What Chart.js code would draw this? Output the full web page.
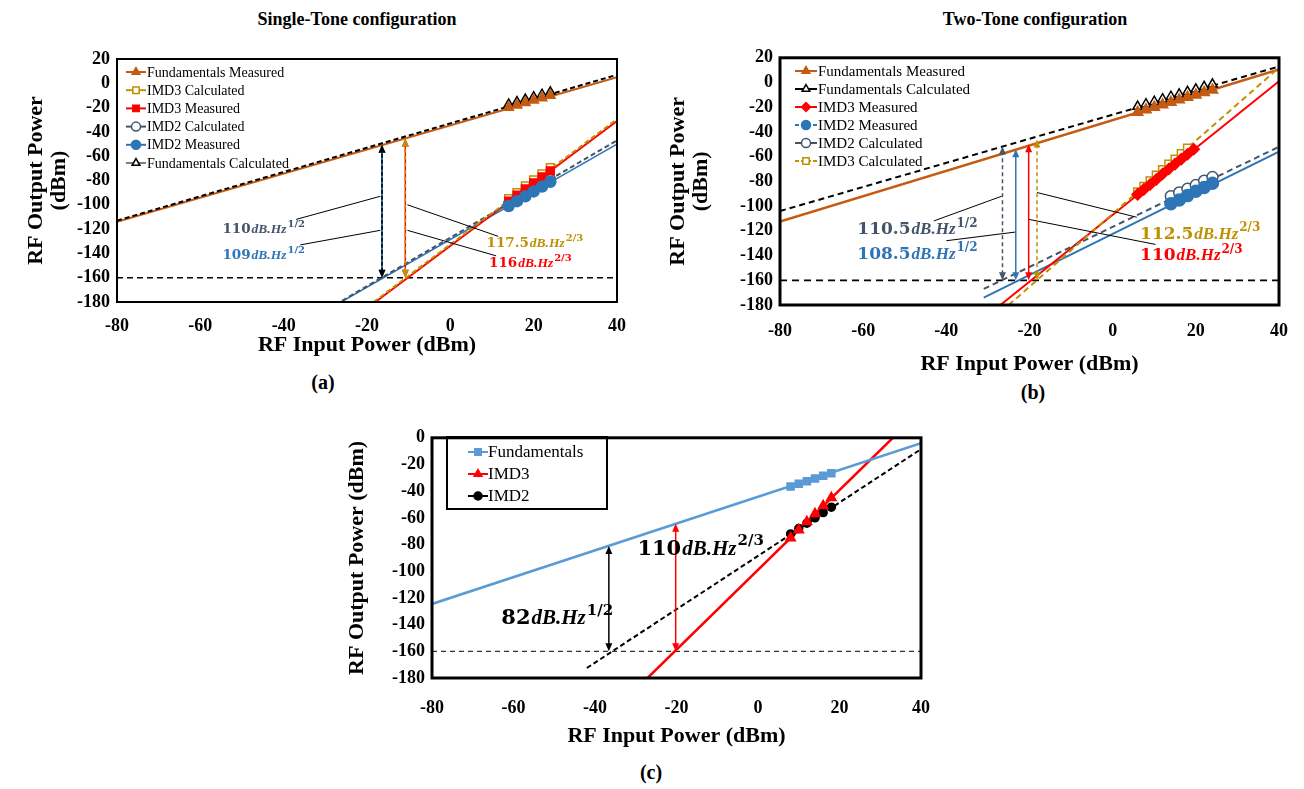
<!DOCTYPE html>
<html>
<head>
<meta charset="utf-8">
<script src="https://cdn.jsdelivr.net/npm/chart.js@4.4.0/dist/chart.umd.min.js"></script>
<style>
body { margin: 0; background: #fff; width: 1304px; height: 789px; position: relative; overflow: hidden; font-family: "Liberation Serif", serif; }
.panel { position: absolute; }
.txt { position: absolute; font-weight: bold; transform: translateX(-50%); white-space: nowrap; color: #000; }
</style>
</head>
<body>
<div class="txt" style="left:357px;top:9px;font-size:18px">Single-Tone configuration</div>
<div class="txt" style="left:1035px;top:9px;font-size:18px">Two-Tone configuration</div>
<div class="txt" style="left:323px;top:371px;font-size:20px">(a)</div>
<div class="txt" style="left:1033px;top:381px;font-size:20px">(b)</div>
<div class="txt" style="left:651px;top:761px;font-size:20px">(c)</div>

<canvas id="chartA" class="panel" width="650" height="330" style="left:0;top:40px"></canvas>
<canvas id="chartB" class="panel" width="654" height="340" style="left:650px;top:40px"></canvas>
<canvas id="chartC" class="panel" width="620" height="330" style="left:330px;top:420px"></canvas>

<script>
// ---- (a) single tone: measured / calculated points
const inA = [14, 16, 18, 20, 22, 24];
const fundMeasA = [-20, -18, -16, -14, -12, -10];
const fundCalcA = [-17, -15, -13, -11, -9, -7];
const imd3MeasA = [-97, -92, -87, -82, -77, -72];
const imd3CalcA = [-95, -90, -84.5, -79.5, -74.5, -69.5];
const imd2MeasA = [-101, -97, -93, -89, -85, -81];
const imd2CalcA = [-99, -95, -91, -87, -83, -79];
// fitted lines, [x, y] end points
const fundMeasFitA = [[-80, -114], [40, 5]];
const fundCalcFitA = [[-80, -113], [40, 7]];
const imd3MeasFitA = [[-18, -180], [40, -31]];
const imd3CalcFitA = [[-18.4, -180], [40, -29.5]];
const imd2MeasFitA = [[-26.2, -180], [40, -50]];
const imd2CalcFitA = [[-26, -179], [40, -47]];

// ---- (b) two tone
const fundInB = [6, 8, 10, 12, 14, 16, 18, 20, 22, 24];
const fundMeasB = [-24, -22, -20, -18, -16, -14, -12, -10, -8, -6];
const fundCalcB = [-19.5, -17.5, -15.5, -13.5, -11.5, -9.5, -7.5, -5.5, -3.5, -1.5];
const imd3InB = [6, 7.5, 9, 10.5, 12, 13.5, 15, 16.5, 18, 19.5];
const imd3MeasB = [-90.5, -86.5, -82.5, -78.5, -74, -70, -66, -62, -58, -54];
const imd3CalcInB = [6, 7.5, 9, 10.5, 12, 13.5, 15, 16.5, 18];
const imd3CalcB = [-88.5, -84, -79.5, -75, -70.5, -66, -62, -57.5, -53];
const imd2InB = [14, 16, 18, 20, 22, 24];
const imd2MeasB = [-98, -95, -91.5, -88, -85, -81.5];
const imd2CalcB = [-92, -89, -86, -83, -79.5, -76.5];
const fundMeasFitB = [[-80, -112.5], [40, 10.5]];
const fundCalcFitB = [[-80, -104], [40, 13]];
const imd3MeasFitB = [[-27, -180], [40, 1]];
const imd3CalcFitB = [[-25, -180], [40, 12]];
const imd2MeasFitB = [[-31, -174], [40, -56]];
const imd2CalcFitB = [[-31, -167], [40, -52]];

// ---- (c)
const inC = [8, 10, 12, 14, 16, 18];
const fundC = [-36.5, -34.5, -32.5, -30.5, -28.5, -26.5];
const imd3C = [-75, -69, -63, -57, -51, -45];
const imd2C = [-72, -68, -64, -60, -56, -52];
const fundFitC = [[-80, -124.5], [40, -4]];
const imd3FitC = [[-27.1, -180], [33.1, 0]];
const imd2FitC = [[-42, -172.5], [40, -8.5]];

const floorLevel = -160;

const ORANGE = '#C55A11', GOLD = '#BF9000', RED = '#FF0000', SLATE = '#44546A', BLUE = '#2E75B6', LBLUE = '#5B9BD5';

function pts(xs, ys) { return xs.map((x, i) => ({x: x, y: ys[i]})); }

function fit(p, color, dash, order, width) {
    return {
        data: p.map(q => ({x: q[0], y: q[1]})),
        showLine: true, borderColor: color, borderWidth: width || 2,
        borderDash: dash || [], pointRadius: 0, order: order
    };
}

function marks(xs, ys, color, style, open, r, order) {
    return {
        data: pts(xs, ys), showLine: false, pointStyle: style, pointRadius: r,
        backgroundColor: open ? '#fff' : color, borderColor: color,
        pointBorderWidth: 1.5, order: order
    };
}

function floorLine(color, width, dash) {
    return fit([[-80, floorLevel], [40, floorLevel]], color, dash, 20, width);
}

// legends and annotations, keyed by canvas id
const LEGENDS = {
    chartA: {x0: 126, x1: 146, tx: 147, y: 32, dy: 18.2, size: 14, items: [
        {label: 'Fundamentals Measured', color: ORANGE, marker: 'triangle'},
        {label: 'IMD3 Calculated', color: GOLD, marker: 'rect', open: true},
        {label: 'IMD3 Measured', color: RED, marker: 'rect'},
        {label: 'IMD2 Calculated', color: SLATE, marker: 'circle', open: true},
        {label: 'IMD2 Measured', color: BLUE, marker: 'circle'},
        {label: 'Fundamentals Calculated', color: '#000', marker: 'triangle', open: true, lw: 1}
    ]},
    chartB: {x0: 145, x1: 167, tx: 168, y: 31, dy: 18, size: 15, items: [
        {label: 'Fundamentals Measured', color: ORANGE, marker: 'triangle'},
        {label: 'Fundamentals Calculated', color: '#000', marker: 'triangle', open: true},
        {label: 'IMD3 Measured', color: RED, marker: 'rectRot'},
        {label: 'IMD2 Measured', color: BLUE, marker: 'circle', dash: [4, 2]},
        {label: 'IMD2 Calculated', color: SLATE, marker: 'circle', open: true},
        {label: 'IMD3 Calculated', color: GOLD, marker: 'rect', open: true, dash: [4, 2]}
    ]},
    chartC: {x0: 138, x1: 158, tx: 158, y: 32, dy: 22, size: 17, box: [117, 17, 160, 72], items: [
        {label: 'Fundamentals', color: LBLUE, marker: 'rect'},
        {label: 'IMD3', color: RED, marker: 'triangle'},
        {label: 'IMD2', color: '#000', marker: 'circle', r: 4}
    ]}
};

const NOTES = {
    chartA: {
        size: 13.5,
        arrows: [
            {x: -16.4, y0: floorLevel, y1: -50.5, color: BLUE, width: 2},
            {x: -16.4, y0: floorLevel, y1: -50.5, color: '#000', dash: [4, 2]},
            {x: -10.8, y0: floorLevel, y1: -45.5, color: RED},
            {x: -10.8, y0: floorLevel, y1: -45.5, color: GOLD, dash: [4, 3]}
        ],
        leaders: [
            [[-37, -112], [-16.8, -93]], [[-36, -133], [-16.8, -121]],
            [[11.5, -126], [-10.3, -100]], [[11, -142], [-10.3, -121]]
        ],
        labels: [
            {x: -54.7, y: -119, num: '110', sup: '1/2', color: SLATE},
            {x: -54.7, y: -141, num: '109', sup: '1/2', color: BLUE},
            {x: 8.7, y: -130.5, num: '117.5', sup: '2/3', color: GOLD},
            {x: 9.3, y: -147, num: '116', sup: '2/3', color: RED}
        ]
    },
    chartB: {
        size: 17,
        arrows: [
            {x: -26.5, y0: floorLevel, y1: -51.8, color: SLATE, dash: [4, 3]},
            {x: -23.3, y0: floorLevel, y1: -54, color: BLUE},
            {x: -20.2, y0: floorLevel, y1: -50, color: RED},
            {x: -18.2, y0: floorLevel, y1: -46, color: GOLD, dash: [4, 3]}
        ],
        leaders: [
            [[-43, -112], [-26.7, -92]], [[-40, -128], [-23.4, -121]],
            [[5.8, -109], [-18.2, -89]], [[10.3, -131], [-20.2, -110.7]]
        ],
        labels: [
            {x: -61.4, y: -118, num: '110.5', sup: '1/2', color: SLATE},
            {x: -61.4, y: -138, num: '108.5', sup: '1/2', color: BLUE},
            {x: 6.6, y: -121.5, num: '112.5', sup: '2/3', color: GOLD},
            {x: 6.6, y: -139, num: '110', sup: '2/3', color: RED}
        ]
    },
    chartC: {
        size: 21,
        arrows: [
            {x: -36.6, y0: floorLevel, y1: -81, color: '#000'},
            {x: -20.2, y0: floorLevel, y1: -64.5, color: RED}
        ],
        leaders: [],
        labels: [
            {x: -63, y: -134, num: '82', sup: '1/2', color: '#000'},
            {x: -29.6, y: -82, num: '110', sup: '2/3', color: '#000'}
        ]
    }
};

const framePlugin = {
    id: 'frame',
    afterDraw(chart) {
        const a = chart.chartArea, ctx = chart.ctx;
        ctx.save();
        ctx.strokeStyle = '#000';
        ctx.lineWidth = chart.canvas.id === 'chartA' ? 2 : 3;
        ctx.strokeRect(a.left, a.top, a.right - a.left, a.bottom - a.top);
        ctx.restore();
    }
};

const legendPlugin = {
    id: 'panelLegend',
    afterDraw(chart) {
        const lg = LEGENDS[chart.canvas.id];
        if (!lg) return;
        const ctx = chart.ctx;
        ctx.save();
        if (lg.box) {
            ctx.strokeStyle = '#000'; ctx.lineWidth = 2;
            ctx.strokeRect(lg.box[0], lg.box[1], lg.box[2], lg.box[3]);
        }
        ctx.font = lg.size + 'px "Liberation Serif"';
        ctx.textBaseline = 'middle';
        lg.items.forEach((it, i) => {
            const y = lg.y + i * lg.dy;
            ctx.strokeStyle = it.color; ctx.lineWidth = it.lw || 2;
            ctx.setLineDash(it.dash || []);
            ctx.beginPath(); ctx.moveTo(lg.x0, y); ctx.lineTo(lg.x1, y); ctx.stroke();
            ctx.setLineDash([]);
            ctx.fillStyle = it.open ? '#fff' : it.color;
            ctx.lineWidth = 1.5;
            Chart.helpers.drawPoint(ctx, {pointStyle: it.marker, radius: it.r || 4.5, rotation: 0, borderWidth: 1.5}, (lg.x0 + lg.x1) / 2, y);
            ctx.fillStyle = '#000';
            ctx.fillText(it.label, lg.tx, y + 1);
        });
        ctx.restore();
    }
};

function arrowHead(ctx, x, y, dir) {
    ctx.beginPath();
    ctx.moveTo(x, y);
    ctx.lineTo(x - 3.5, y - dir * 8);
    ctx.lineTo(x + 3.5, y - dir * 8);
    ctx.closePath();
    ctx.fill();
}

function drawMath(ctx, x, y, lab, s) {
    ctx.fillStyle = lab.color;
    ctx.textBaseline = 'alphabetic';
    ctx.textAlign = 'left';
    ctx.font = 'bold ' + s + 'px "DejaVu Serif"';
    ctx.fillText(lab.num, x, y);
    let cx = x + ctx.measureText(lab.num).width + 1;
    ctx.font = 'italic bold ' + s + 'px "Liberation Serif"';
    ctx.fillText('dB.Hz', cx, y);
    cx += ctx.measureText('dB.Hz').width + 1;
    ctx.font = 'bold ' + Math.round(s * 0.72) + 'px "DejaVu Serif"';
    ctx.fillText(lab.sup, cx, y - s * 0.45);
}

const notesPlugin = {
    id: 'panelNotes',
    afterDatasetsDraw(chart) {
        const n = NOTES[chart.canvas.id];
        if (!n) return;
        const ctx = chart.ctx, xs = chart.scales.x, ys = chart.scales.y;
        const px = v => xs.getPixelForValue(v), py = v => ys.getPixelForValue(v);
        ctx.save();
        ctx.strokeStyle = '#000'; ctx.lineWidth = 1;
        n.leaders.forEach(l => {
            ctx.beginPath();
            ctx.moveTo(px(l[0][0]), py(l[0][1]));
            ctx.lineTo(px(l[1][0]), py(l[1][1]));
            ctx.stroke();
        });
        n.arrows.forEach(a => {
            const x = px(a.x), yb = py(a.y0), yt = py(a.y1);
            ctx.strokeStyle = a.color; ctx.fillStyle = a.color;
            ctx.lineWidth = a.width || 1.5;
            ctx.setLineDash(a.dash || []);
            ctx.beginPath(); ctx.moveTo(x, yb - 6); ctx.lineTo(x, yt + 6); ctx.stroke();
            ctx.setLineDash([]);
            arrowHead(ctx, x, yt, -1);
            arrowHead(ctx, x, yb, 1);
        });
        n.labels.forEach(lab => drawMath(ctx, px(lab.x), py(lab.y) + n.size * 0.35, lab, n.size));
        ctx.restore();
    }
};

function buildChart(id, cfg) {
    const tickFont = {family: 'Liberation Serif', size: 18, weight: 'bold'};
    const titleFont = {family: 'Liberation Serif', size: 22, weight: 'bold', lineHeight: 1.05};
    return new Chart(document.getElementById(id), {
        type: 'scatter',
        data: {datasets: cfg.datasets},
        options: {
            responsive: false, animation: false, events: [],
            layout: {padding: {top: cfg.padTop, right: cfg.padRight, left: 0, bottom: 0}},
            plugins: {legend: {display: false}, tooltip: {enabled: false}},
            scales: {
                x: {
                    type: 'linear', min: -80, max: 40,
                    ticks: {stepSize: 20, autoSkip: false, color: '#000', font: tickFont, padding: cfg.xTickPad, maxRotation: 0},
                    grid: {display: false, drawTicks: false}, border: {display: false},
                    title: {display: true, text: 'RF Input Power (dBm)', color: '#000', font: titleFont, padding: {top: 0, bottom: cfg.xTitlePad}},
                    afterFit(s) { s.height = cfg.xHeight; }
                },
                y: {
                    type: 'linear', min: cfg.yMin, max: cfg.yMax,
                    ticks: {stepSize: 20, autoSkip: false, color: '#000', font: tickFont, padding: 7},
                    grid: {display: false, drawTicks: false}, border: {display: false},
                    title: {display: true, text: cfg.yTitle, color: '#000', font: titleFont, padding: {top: cfg.yTitlePad, bottom: 0}},
                    afterFit(s) { s.width = cfg.yWidth; }
                }
            }
        },
        plugins: [framePlugin, notesPlugin, legendPlugin]
    });
}

buildChart('chartA', {
    padTop: 19, padRight: 33, xHeight: 68, yWidth: 117, xTickPad: 14, xTitlePad: 13, yTitlePad: 25,
    yMin: -180, yMax: 20, yTitle: ['RF Output Power', '(dBm)'],
    datasets: [
        marks(inA, fundMeasA, ORANGE, 'triangle', false, 5.5, 1),
        marks(inA, fundCalcA, '#000', 'triangle', true, 5, 2),
        marks(inA, imd2MeasA, BLUE, 'circle', false, 5.5, 1),
        marks(inA, imd2CalcA, SLATE, 'circle', true, 5, 2),
        marks(inA, imd3MeasA, RED, 'rect', false, 5.5, 1),
        marks(inA, imd3CalcA, GOLD, 'rect', true, 5.5, 2),
        fit(fundCalcFitA, '#000', [5, 3], 10, 2),
        fit(fundMeasFitA, ORANGE, [], 11, 2),
        fit(imd3CalcFitA, GOLD, [5, 3], 10, 2),
        fit(imd3MeasFitA, RED, [], 11, 2),
        fit(imd2CalcFitA, SLATE, [5, 3], 10, 2),
        fit(imd2MeasFitA, BLUE, [], 11, 1.5),
        floorLine('#000', 1.5, [6, 4])
    ]
});

buildChart('chartB', {
    padTop: 15, padRight: 21, xHeight: 75, yWidth: 130, xTickPad: 16, xTitlePad: 4, yTitlePad: 17,
    yMin: -180, yMax: 20, yTitle: ['RF Output Power', '(dBm)'],
    datasets: [
        marks(fundInB, fundMeasB, ORANGE, 'triangle', false, 6, 1),
        marks(fundInB, fundCalcB, '#000', 'triangle', true, 5.5, 2),
        marks(imd3InB, imd3MeasB, RED, 'rectRot', false, 5.5, 1),
        marks(imd3CalcInB, imd3CalcB, GOLD, 'rect', true, 5.5, 2),
        marks(imd2InB, imd2MeasB, BLUE, 'circle', false, 6, 1),
        marks(imd2InB, imd2CalcB, SLATE, 'circle', true, 5.5, 2),
        fit(fundCalcFitB, '#000', [6, 4], 10, 2),
        fit(fundMeasFitB, ORANGE, [], 11, 2.5),
        fit(imd3CalcFitB, GOLD, [6, 4], 10, 2),
        fit(imd3MeasFitB, RED, [], 11, 2),
        fit(imd2CalcFitB, SLATE, [6, 4], 10, 2),
        fit(imd2MeasFitB, BLUE, [], 11, 2),
        floorLine('#000', 1.8, [7, 5])
    ]
});

buildChart('chartC', {
    padTop: 14, padRight: 16, xHeight: 72, yWidth: 102, xTickPad: 20, xTitlePad: 2, yTitlePad: 16,
    yMin: -180, yMax: 0, yTitle: 'RF Output Power (dBm)',
    datasets: [
        marks(inC, fundC, LBLUE, 'rect', false, 5, 1),
        marks(inC, imd3C, RED, 'triangle', false, 5.5, 1),
        marks(inC, imd2C, '#000', 'circle', false, 4, 2),
        fit(fundFitC, LBLUE, [], 11, 2.5),
        fit(imd3FitC, RED, [], 11, 2.5),
        fit(imd2FitC, '#000', [5, 3], 10, 2),
        floorLine('#333', 1.2, [5, 4])
    ]
});
</script>
</body>
</html>
